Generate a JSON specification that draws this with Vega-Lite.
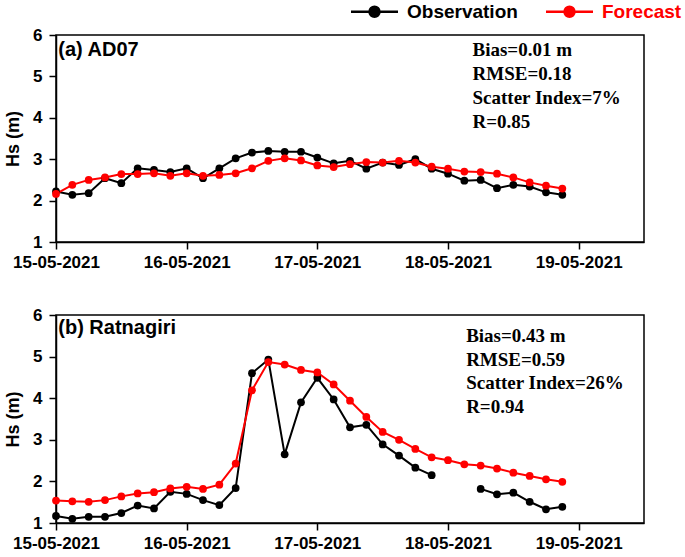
{
  "$schema": "https://vega.github.io/schema/vega-lite/v6.json",
  "background": "white",
  "padding": {"left": 3, "top": 1, "right": 0, "bottom": 0},
  "spacing": 34,
  "datasets": {
    "d": [
      {"p":"a","t":"2021-05-15T00:00","Observation":2.22,"Forecast":2.16},
      {"p":"a","t":"2021-05-15T03:00","Observation":2.14,"Forecast":2.38},
      {"p":"a","t":"2021-05-15T06:00","Observation":2.18,"Forecast":2.5},
      {"p":"a","t":"2021-05-15T09:00","Observation":2.54,"Forecast":2.56},
      {"p":"a","t":"2021-05-15T12:00","Observation":2.42,"Forecast":2.64},
      {"p":"a","t":"2021-05-15T15:00","Observation":2.78,"Forecast":2.64},
      {"p":"a","t":"2021-05-15T18:00","Observation":2.74,"Forecast":2.66},
      {"p":"a","t":"2021-05-15T21:00","Observation":2.69,"Forecast":2.6},
      {"p":"a","t":"2021-05-16T00:00","Observation":2.78,"Forecast":2.66},
      {"p":"a","t":"2021-05-16T03:00","Observation":2.54,"Forecast":2.6},
      {"p":"a","t":"2021-05-16T06:00","Observation":2.78,"Forecast":2.62},
      {"p":"a","t":"2021-05-16T09:00","Observation":3.02,"Forecast":2.66},
      {"p":"a","t":"2021-05-16T12:00","Observation":3.16,"Forecast":2.78},
      {"p":"a","t":"2021-05-16T15:00","Observation":3.2,"Forecast":2.96},
      {"p":"a","t":"2021-05-16T18:00","Observation":3.18,"Forecast":3.02},
      {"p":"a","t":"2021-05-16T21:00","Observation":3.18,"Forecast":2.97},
      {"p":"a","t":"2021-05-17T00:00","Observation":3.04,"Forecast":2.85},
      {"p":"a","t":"2021-05-17T03:00","Observation":2.9,"Forecast":2.81},
      {"p":"a","t":"2021-05-17T06:00","Observation":2.96,"Forecast":2.88},
      {"p":"a","t":"2021-05-17T09:00","Observation":2.77,"Forecast":2.93},
      {"p":"a","t":"2021-05-17T12:00","Observation":2.92,"Forecast":2.92},
      {"p":"a","t":"2021-05-17T15:00","Observation":2.86,"Forecast":2.96},
      {"p":"a","t":"2021-05-17T18:00","Observation":3.0,"Forecast":2.92},
      {"p":"a","t":"2021-05-17T21:00","Observation":2.77,"Forecast":2.82},
      {"p":"a","t":"2021-05-18T00:00","Observation":2.65,"Forecast":2.77},
      {"p":"a","t":"2021-05-18T03:00","Observation":2.48,"Forecast":2.7},
      {"p":"a","t":"2021-05-18T06:00","Observation":2.5,"Forecast":2.69},
      {"p":"a","t":"2021-05-18T09:00","Observation":2.3,"Forecast":2.65},
      {"p":"a","t":"2021-05-18T12:00","Observation":2.38,"Forecast":2.56},
      {"p":"a","t":"2021-05-18T15:00","Observation":2.34,"Forecast":2.44},
      {"p":"a","t":"2021-05-18T18:00","Observation":2.2,"Forecast":2.36},
      {"p":"a","t":"2021-05-18T21:00","Observation":2.14,"Forecast":2.29},
      {"p":"b","t":"2021-05-15T00:00","Observation":1.17,"Forecast":1.54},
      {"p":"b","t":"2021-05-15T03:00","Observation":1.1,"Forecast":1.52},
      {"p":"b","t":"2021-05-15T06:00","Observation":1.15,"Forecast":1.51},
      {"p":"b","t":"2021-05-15T09:00","Observation":1.15,"Forecast":1.55},
      {"p":"b","t":"2021-05-15T12:00","Observation":1.24,"Forecast":1.64},
      {"p":"b","t":"2021-05-15T15:00","Observation":1.42,"Forecast":1.71},
      {"p":"b","t":"2021-05-15T18:00","Observation":1.35,"Forecast":1.74},
      {"p":"b","t":"2021-05-15T21:00","Observation":1.75,"Forecast":1.83},
      {"p":"b","t":"2021-05-16T00:00","Observation":1.7,"Forecast":1.87},
      {"p":"b","t":"2021-05-16T03:00","Observation":1.55,"Forecast":1.82},
      {"p":"b","t":"2021-05-16T06:00","Observation":1.43,"Forecast":1.92},
      {"p":"b","t":"2021-05-16T09:00","Observation":1.84,"Forecast":2.43},
      {"p":"b","t":"2021-05-16T12:00","Observation":4.6,"Forecast":4.19},
      {"p":"b","t":"2021-05-16T15:00","Observation":4.93,"Forecast":4.87},
      {"p":"b","t":"2021-05-16T18:00","Observation":2.65,"Forecast":4.81},
      {"p":"b","t":"2021-05-16T21:00","Observation":3.9,"Forecast":4.68},
      {"p":"b","t":"2021-05-17T00:00","Observation":4.49,"Forecast":4.62},
      {"p":"b","t":"2021-05-17T03:00","Observation":3.97,"Forecast":4.33},
      {"p":"b","t":"2021-05-17T06:00","Observation":3.3,"Forecast":3.94},
      {"p":"b","t":"2021-05-17T09:00","Observation":3.36,"Forecast":3.55},
      {"p":"b","t":"2021-05-17T12:00","Observation":2.89,"Forecast":3.19},
      {"p":"b","t":"2021-05-17T15:00","Observation":2.62,"Forecast":3.0},
      {"p":"b","t":"2021-05-17T18:00","Observation":2.33,"Forecast":2.78},
      {"p":"b","t":"2021-05-17T21:00","Observation":2.15,"Forecast":2.58},
      {"p":"b","t":"2021-05-18T00:00","Observation":null,"Forecast":2.51},
      {"p":"b","t":"2021-05-18T03:00","Observation":null,"Forecast":2.41},
      {"p":"b","t":"2021-05-18T06:00","Observation":1.82,"Forecast":2.38},
      {"p":"b","t":"2021-05-18T09:00","Observation":1.69,"Forecast":2.31},
      {"p":"b","t":"2021-05-18T12:00","Observation":1.73,"Forecast":2.21},
      {"p":"b","t":"2021-05-18T15:00","Observation":1.51,"Forecast":2.13},
      {"p":"b","t":"2021-05-18T18:00","Observation":1.33,"Forecast":2.05},
      {"p":"b","t":"2021-05-18T21:00","Observation":1.39,"Forecast":1.99}
    ]
  },
  "config": {
    "view": {"stroke": "black", "strokeWidth": 1.5},
    "axis": {
      "grid": false,
      "domainColor": "black", "domainWidth": 1.5,
      "tickColor": "black", "tickWidth": 1.5, "tickSize": 7,
      "labelFlush": false, "labelOverlap": false,
      "labelFont": "Liberation Sans", "labelFontWeight": "bold", "labelFontSize": 17, "labelColor": "black",
      "titleFont": "Liberation Sans", "titleFontWeight": "bold", "titleFontSize": 18, "titleColor": "black"
    }
  },
  "resolve": {"scale": {"color": "independent"}, "legend": {"color": "independent"}},
  "vconcat": [
    {
      "width": 588, "height": 207,
      "layer": [
        {
          "data": {"name": "d"},
          "transform": [{"filter": "datum.p == 'a'"}, {"fold": ["Observation", "Forecast"], "as": ["series", "hs"]}],
          "mark": {"type": "line", "strokeWidth": 2, "point": {"filled": true, "size": 60, "opacity": 1}},
          "encoding": {
            "x": {"field": "t", "type": "temporal",
              "scale": {"domain": [{"year": 2021, "month": 5, "date": 15}, {"year": 2021, "month": 5, "date": 19, "hours": 12}]},
              "axis": {"title": null, "format": "%d-%m-%Y", "labelPadding": 5,
                "values": [{"year": 2021, "month": 5, "date": 15}, {"year": 2021, "month": 5, "date": 16}, {"year": 2021, "month": 5, "date": 17}, {"year": 2021, "month": 5, "date": 18}, {"year": 2021, "month": 5, "date": 19}]}},
            "y": {"field": "hs", "type": "quantitative", "scale": {"domain": [1, 6], "nice": false},
              "axis": {"title": "Hs (m)", "values": [1, 2, 3, 4, 5, 6], "labelPadding": 7, "titlePadding": 10}},
            "color": {"field": "series", "type": "nominal",
              "scale": {"domain": ["Observation", "Forecast"], "range": ["#000000", "#ff0000"]},
              "legend": {
                "orient": "none", "legendX": 309, "legendY": -33, "direction": "horizontal", "title": null, "padding": 0,
                "symbolType": "M-4.7,0L-1,0M1,0L4.7,0M1,0A1,1,0,1,1,-1,0A1,1,0,1,1,1,0",
                "symbolSize": 100, "symbolStrokeWidth": 2.5,
                "labelFont": "Liberation Sans", "labelFontWeight": "bold", "labelFontSize": 19, "labelOffset": 23,
                "columnPadding": 23, "labelLimit": 300,
                "encode": {
                  "symbols": {"update": {
                    "fill": {"signal": "datum.value == 'Forecast' ? '#ff0000' : '#000000'"},
                    "stroke": {"signal": "datum.value == 'Forecast' ? '#ff0000' : '#000000'"},
                    "opacity": {"value": 1}, "fillOpacity": {"value": 1}}},
                  "labels": {"update": {"fill": {"signal": "datum.value == 'Forecast' ? '#ff0000' : '#000000'"}}}
                }
              }}
          }
        },
        {
          "data": {"values": [{}]},
          "mark": {"type": "text", "font": "Liberation Sans", "fontWeight": "bold", "fontSize": 20, "align": "left", "baseline": "alphabetic", "color": "black"},
          "encoding": {
            "x": {"datum": {"year": 2021, "month": 5, "date": 15, "hours": 0, "minutes": 25}, "type": "temporal"},
            "y": {"datum": 5.49, "type": "quantitative"},
            "text": {"value": "(a) AD07"}
          }
        },
        {
          "data": {"values": [{}]},
          "mark": {"type": "text", "font": "Liberation Serif", "fontWeight": "bold", "fontSize": 19, "align": "left", "baseline": "alphabetic", "color": "black", "lineHeight": 24},
          "encoding": {
            "x": {"datum": {"year": 2021, "month": 5, "date": 18, "hours": 4, "minutes": 30}, "type": "temporal"},
            "y": {"datum": 5.49, "type": "quantitative"},
            "text": {"value": ["Bias=0.01 m", "RMSE=0.18", "Scatter Index=7%", "R=0.85"]}
          }
        }
      ]
    },
    {
      "width": 588, "height": 208,
      "layer": [
        {
          "data": {"name": "d"},
          "transform": [{"filter": "datum.p == 'b'"}, {"fold": ["Observation", "Forecast"], "as": ["series", "hs"]}],
          "mark": {"type": "line", "strokeWidth": 2, "point": {"filled": true, "size": 60, "opacity": 1}},
          "encoding": {
            "x": {"field": "t", "type": "temporal",
              "scale": {"domain": [{"year": 2021, "month": 5, "date": 15}, {"year": 2021, "month": 5, "date": 19, "hours": 12}]},
              "axis": {"title": null, "format": "%d-%m-%Y", "labelPadding": 5,
                "values": [{"year": 2021, "month": 5, "date": 15}, {"year": 2021, "month": 5, "date": 16}, {"year": 2021, "month": 5, "date": 17}, {"year": 2021, "month": 5, "date": 18}, {"year": 2021, "month": 5, "date": 19}]}},
            "y": {"field": "hs", "type": "quantitative", "scale": {"domain": [1, 6], "nice": false},
              "axis": {"title": "Hs (m)", "values": [1, 2, 3, 4, 5, 6], "labelPadding": 7, "titlePadding": 10}},
            "color": {"field": "series", "type": "nominal",
              "scale": {"domain": ["Observation", "Forecast"], "range": ["#000000", "#ff0000"]},
              "legend": null}
          }
        },
        {
          "data": {"values": [{}]},
          "mark": {"type": "text", "font": "Liberation Sans", "fontWeight": "bold", "fontSize": 20, "align": "left", "baseline": "alphabetic", "color": "black"},
          "encoding": {
            "x": {"datum": {"year": 2021, "month": 5, "date": 15, "hours": 0, "minutes": 25}, "type": "temporal"},
            "y": {"datum": 5.54, "type": "quantitative"},
            "text": {"value": "(b) Ratnagiri"}
          }
        },
        {
          "data": {"values": [{}]},
          "mark": {"type": "text", "font": "Liberation Serif", "fontWeight": "bold", "fontSize": 19, "align": "left", "baseline": "alphabetic", "color": "black", "lineHeight": 23.5},
          "encoding": {
            "x": {"datum": {"year": 2021, "month": 5, "date": 18, "hours": 3, "minutes": 20}, "type": "temporal"},
            "y": {"datum": 5.35, "type": "quantitative"},
            "text": {"value": ["Bias=0.43 m", "RMSE=0.59", "Scatter Index=26%", "R=0.94"]}
          }
        }
      ]
    }
  ]
}
